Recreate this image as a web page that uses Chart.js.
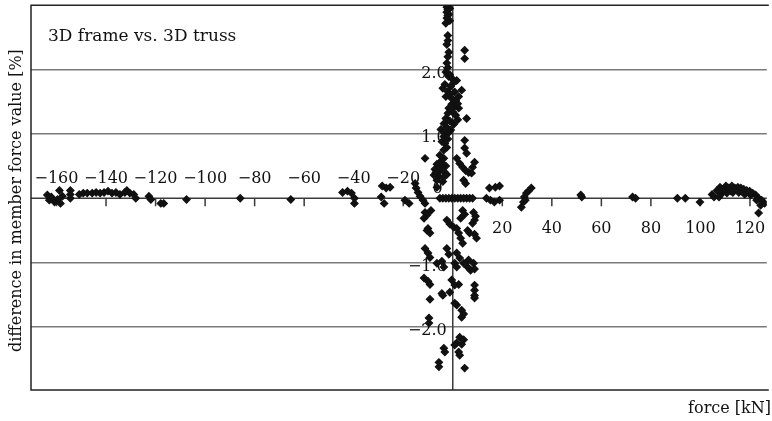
<!DOCTYPE html>
<html>
<head>
<meta charset="utf-8">
<script src="https://cdn.jsdelivr.net/npm/chart.js@4"></script>
<style>
  html, body { margin: 0; padding: 0; background: #fff; }
</style>
</head>
<body>
<canvas id="myChart" width="772" height="421"></canvas>
<script>
(function () {
  "use strict";

  // member force [kN] and difference frame vs truss [%]
  const forceKN = [
    -163.7, -162.9, -162.1, -160.8, -159.6, -158.8, -158.4, -157.6, -154.4, -154.4, -154.4,
    -150.8, -149.2, -147.6, -145.6, -144.0, -142.4, -140.8, -139.2, -137.6, -136.0, -134.4,
    -132.4, -131.6, -130.4, -128.8, -128.0, -122.7, -121.9, -117.9, -116.7, -107.5, -85.8,
    -65.4, -44.5, -42.5, -40.9, -39.7, -39.7, -28.5, -26.9, -25.3, -28.9, -27.7, -19.3, -17.6,
    -15.2, -14.8, -14.0, -13.2, -12.0, -11.2, -11.2, -11.2, -10.4, -11.6, -8.8, -10.0, -9.2,
    -10.4, -11.2, -10.0, -9.2, -6.4, -4.4, -3.6, -11.6, -10.0, -9.2, -4.4, -4.0, -9.2, -1.2,
    -9.6, -9.6, -3.6, -3.2, -5.6, -5.6,
    -2.4, -2.0, -2.4, -2.0, -2.4, -2.0, -2.0, -2.4, -1.6, -2.0, 4.8, 4.8, -2.4, -2.0, -2.8,
    -1.6, 0.0, 1.6, -3.2, -0.8, -4.0, -2.0, 3.6, 0.8, -2.8, -0.4, 2.4, -1.6, 0.8, 2.4, 0.0,
    1.2, 5.6, -2.8, -1.2, -3.6, 0.4, -2.4, -4.8, -0.8, -3.2, -3.6, -2.0, -3.2, -2.4, -3.6,
    4.8, 4.8, 5.6, 1.6, 2.8, 4.0, 5.2, 6.4, 8.8, 8.0, 7.6, 4.4, 5.2,
    -6.4, -4.4, -2.8, -7.2, -5.2, -3.2, -7.6, -5.6, -3.6, -2.4, -6.4, -4.0, -5.2, -3.6, -6.4,
    -1.2, -1.6, -1.2, -2.8, -1.2, 0.4, -1.2, 1.2, -0.4, 2.0, -2.0, 2.0, -1.6, -4.4, -5.2,
    -4.8, -6.8,
    -5.2, -4.0, -2.8, -1.6, -0.4, 0.8, 2.0, 3.2, 4.4, 5.6, 6.8, 8.0,
    14.8, 17.2, 18.9, 13.6, 15.2, 16.8, 18.9,
    4.0, 4.8, 3.2, 8.4, 9.2, 8.8, 8.0, -2.4, -1.2, 0.4, 1.6, 2.4, 3.2, 4.0, 6.0, 6.8, 8.8,
    9.6, -2.4, -1.6, 1.6, 2.8, 6.4, 0.8, 1.6, 4.4, 6.0, 7.2, 8.4, 8.8, -0.4, 0.8, 2.4, 8.8,
    8.8, 8.8, 8.8, 0.8, 1.6, 3.6, 4.4, 3.6, 2.8, 4.4, 1.6, 0.8, 3.6, 2.4, 2.8, 4.8,
    27.7, 28.5, 28.9, 29.7, 30.5, 31.7, 29.3, 51.7, 52.1, 72.6, 73.8, 90.7, 93.9, 99.8,
    104.7, 105.5, 106.7, 107.9, 109.1, 110.3, 111.5, 112.7, 113.9, 115.1, 116.3, 117.5,
    118.7, 119.9, 121.1, 122.3, 123.5, 124.7, 125.9, 108.3, 110.7, 113.1, 115.5, 117.9,
    120.3, 122.7, 124.3, 123.5, 107.5, 112.3
  ];
  const diffPct = [
    0.05, -0.03, 0.02, -0.06, -0.02, 0.12, -0.08, 0.03, 0.12, 0.06, 0.0,
    0.06, 0.08, 0.08, 0.08, 0.09, 0.08, 0.09, 0.11, 0.08, 0.09, 0.06,
    0.09, 0.12, 0.08, 0.06, 0.0, 0.03, -0.02, -0.08, -0.08, -0.02, 0.0,
    -0.02, 0.09, 0.11, 0.08, 0.0, -0.08, 0.19, 0.16, 0.17, 0.02, -0.08, -0.03, -0.08,
    0.23, 0.16, 0.09, 0.03, -0.03, -0.08, 0.62, -0.22, -0.26, -0.31, -0.19, -0.47, -0.54,
    -0.50, -0.78, -0.85, -0.92, -1.01, -0.98, -1.07, -1.24, -1.29, -1.34, -1.48, -1.51, -1.57, -1.46,
    -1.86, -1.94, -2.33, -2.39, -2.55, -2.62,
    2.97, 2.93, 2.89, 2.84, 2.80, 2.53, 2.45, 2.39, 2.27, 2.20, 2.30, 2.17, 2.10, 2.03, 1.96,
    1.89, 1.85, 1.83, 1.77, 1.74, 1.71, 1.66, 1.68, 1.65, 1.58, 1.55, 1.58, 1.40, 1.43, 1.40, 1.34,
    1.29, 1.24, 1.24, 1.20, 1.16, 1.15, 1.10, 1.07, 1.06, 1.01, 0.96, 0.92, 0.85, 0.79, 0.75,
    0.90, 0.78, 0.70, 0.62, 0.54, 0.48, 0.43, 0.40, 0.56, 0.48, 0.39, 0.28, 0.23,
    0.53, 0.54, 0.50, 0.45, 0.43, 0.40, 0.36, 0.34, 0.33, 0.37, 0.28, 0.26, 0.67, 0.62, 0.17,
    2.95, 2.86, 2.76, 2.72, 1.92, 1.80, 1.62, 1.52, 1.46, 1.47, 1.32, 1.22, 1.02, 0.88, 0.56,
    0.47, 0.40,
    0.0, 0.0, 0.0, 0.0, 0.0, 0.0, 0.0, 0.0, 0.0, 0.0, 0.0, 0.0,
    0.16, 0.17, 0.19, 0.0, -0.03, -0.06, -0.03,
    -0.19, -0.25, -0.31, -0.22, -0.28, -0.34, -0.39, -0.34, -0.40, -0.45, -0.47, -0.54, -0.62, -0.70, -0.50, -0.54, -0.56,
    -0.62, -0.78, -0.87, -0.85, -0.93, -0.96, -1.01, -1.07, -1.01, -1.07, -1.12, -1.01, -1.10, -1.27, -1.35, -1.34, -1.35,
    -1.43, -1.51, -1.55, -1.63, -1.66, -1.74, -1.80, -1.85, -2.16, -2.20, -2.25, -2.28, -2.27, -2.39, -2.44, -2.64,
    -0.14, -0.06, 0.02, 0.08, 0.11, 0.16, -0.03, 0.05, 0.02, 0.02, 0.0, 0.0, 0.0, -0.06,
    0.06, 0.02, 0.12, 0.17, 0.12, 0.19, 0.16, 0.19, 0.16, 0.17, 0.16, 0.14,
    0.12, 0.11, 0.08, 0.05, 0.0, -0.03, -0.08, 0.06, 0.08, 0.09, 0.09, 0.06,
    0.05, -0.03, -0.11, -0.23, 0.02, 0.11
  ];

  const xTicks = [-160, -140, -120, -100, -80, -60, -40, -20, 20, 40, 60, 80, 100, 120];
  const yTicks = [-2, -1, 1, 2];
  const xRange = [-170.3, 126.8];
  const yRange = [-2.98, 3.0];

  const serif = "'DejaVu Serif', 'Liberation Serif', serif";

  function fmt(v, digits) {
    const s = Math.abs(v).toFixed(digits);
    return v < 0 ? "\u2212" + s : s;
  }

  // axes cross at the origin, negative x labels above, positive below
  const originAxes = {
    id: "originAxes",
    beforeDatasetsDraw(chart) {
      const { ctx, chartArea: a, scales: { x, y } } = chart;
      const x0 = x.getPixelForValue(0);
      const y0 = y.getPixelForValue(0);
      ctx.save();
      ctx.strokeStyle = "#3a3a3a";
      ctx.lineWidth = 1.5;
      ctx.beginPath();
      ctx.moveTo(a.left, y0);
      ctx.lineTo(a.right, y0);
      ctx.moveTo(x0, a.top);
      ctx.lineTo(x0, a.bottom);
      xTicks.forEach(function (v) {
        const px = x.getPixelForValue(v);
        ctx.moveTo(px, y0);
        ctx.lineTo(px, y0 + 8);
      });
      ctx.stroke();

      ctx.fillStyle = "#111";
      ctx.font = "16px " + serif;
      ctx.textAlign = "center";
      ctx.textBaseline = "alphabetic";
      xTicks.forEach(function (v) {
        const px = x.getPixelForValue(v);
        ctx.fillText(fmt(v, 0), px, v < 0 ? y0 - 15 : y0 + 35);
      });
      ctx.textAlign = "right";
      yTicks.forEach(function (v) {
        ctx.fillText(fmt(v, 1), x0 - 6, y.getPixelForValue(v) + 8);
      });
      ctx.fillText("0", x0 - 10, y0 - 5);

      // frame: top, left, bottom
      ctx.strokeStyle = "#222";
      ctx.lineWidth = 1.5;
      ctx.beginPath();
      ctx.moveTo(a.right + 2, a.top);
      ctx.lineTo(a.left, a.top);
      ctx.lineTo(a.left, a.bottom);
      ctx.lineTo(a.right + 2, a.bottom);
      ctx.stroke();

      ctx.textAlign = "left";
      ctx.font = "17px " + serif;
      ctx.fillText("3D frame vs. 3D truss", a.left + 17, a.top + 36);
      ctx.restore();
    },
    afterDraw(chart) {
      const { ctx, chartArea: a } = chart;
      ctx.save();
      ctx.fillStyle = "#111";
      ctx.font = "16px " + serif;
      ctx.textAlign = "right";
      ctx.fillText("force [kN]", chart.width - 1, a.bottom + 23);
      ctx.translate(21, (a.top + a.bottom) / 2 + 3);
      ctx.rotate(-Math.PI / 2);
      ctx.textAlign = "center";
      ctx.fillText("difference in member force value [%]", 0, 0);
      ctx.restore();
    }
  };

  const ctx = document.getElementById("myChart").getContext("2d");
  const myChart = new Chart(ctx, {
    type: "scatter",
    data: {
      datasets: [
        {
          label: "3D frame vs. 3D truss",
          data: forceKN.map(function (f, i) { return { x: f, y: diffPct[i] }; }),
          pointStyle: "rectRot",
          pointRadius: 3.6,
          backgroundColor: "#111",
          borderColor: "#111",
          borderWidth: 1.2,
        },
      ],
    },
    options: {
      responsive: false,
      animation: false,
      layout: { padding: { left: 31, top: 4, right: 0, bottom: 31 } },
      plugins: { legend: { display: false }, tooltip: { enabled: false } },
      scales: {
        x: { type: "linear", min: xRange[0], max: xRange[1], display: false },
        y: {
          type: "linear",
          min: yRange[0],
          max: yRange[1],
          ticks: { display: false, stepSize: 1, includeBounds: false },
          border: { display: false },
          grid: {
            drawTicks: false,
            lineWidth: 1.5,
            color: function (c) {
              return c.tick && (c.tick.value === 0 || c.tick.value === 3) ? "rgba(0,0,0,0)" : "#7a7a7a";
            },
          },
        },
      },
    },
    plugins: [originAxes],
  });
})();
</script>
</body>
</html>
